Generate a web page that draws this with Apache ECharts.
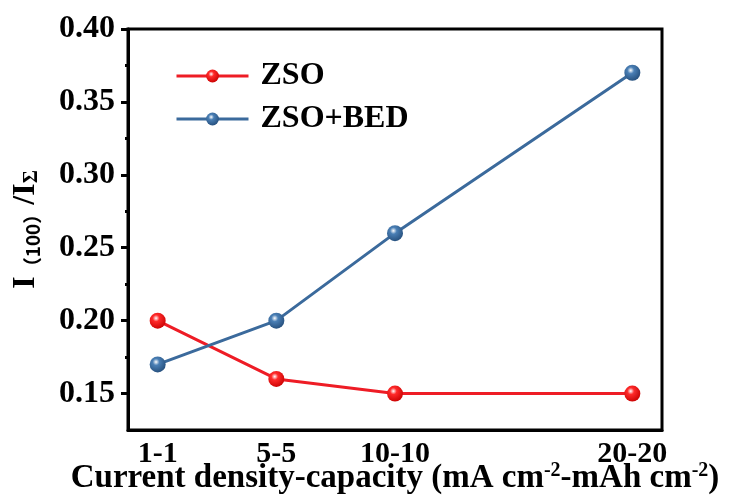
<!DOCTYPE html>
<html>
<head>
<meta charset="utf-8">
<script src="https://cdn.jsdelivr.net/npm/echarts@6/dist/echarts.min.js"></script>
<style>
    html, body { margin: 0; padding: 0; background: #fff; }
    #main { width: 734px; height: 497px; }
</style>
</head>
<body>
<div id="main"></div>
<script>
// x positions on the value axis, with the label shown for each
const xPositions = [1, 2, 3, 5];
const xLabels = ['1-1', '5-5', '10-10', '20-20'];

const zsoValues = [0.20, 0.16, 0.15, 0.15];
const zsoBedValues = [0.17, 0.20, 0.26, 0.37];

const yMajorTicks = [0.15, 0.20, 0.25, 0.30, 0.35, 0.40];
const yMinorTicks = [0.175, 0.225, 0.275, 0.325, 0.375];

const FONT = '"Liberation Serif", "Times New Roman", serif';

function ball(c1, c2) {
    return new echarts.graphic.RadialGradient(0.4, 0.35, 0.7, [
        { offset: 0, color: '#ffffff' },
        { offset: 0.3, color: c1 },
        { offset: 1, color: c2 }
    ]);
}

function pairs(vals) {
    return vals.map(function (v, i) { return [xPositions[i], v]; });
}

const chart = echarts.init(document.getElementById('main'), null, { renderer: 'canvas' });

const option = {
    backgroundColor: '#fff',
    animation: false,
    grid: {
        left: 128, right: 72, top: 29, bottom: 67,
        outerBoundsMode: 'none',
        show: true, borderColor: '#000', borderWidth: 3, backgroundColor: 'transparent'
    },
    legend: {
        orient: 'vertical',
        left: 170, top: 55,
        itemWidth: 72, itemHeight: 16, itemGap: 11,
        lineStyle: { width: 3 },
        textStyle: { fontFamily: FONT, fontWeight: 'bold', fontSize: 32, color: '#000', padding: [0, 0, 0, 7] },
        data: ['ZSO', 'ZSO+BED']
    },
    xAxis: {
        type: 'value',
        min: 0.75, max: 5.25,
        splitLine: { show: false },
        axisLine: { lineStyle: { color: '#000', width: 3 } },
        axisTick: { show: false },
        axisLabel: {
            customValues: xPositions,
            formatter: function (v) { return xLabels[xPositions.indexOf(v)] || ''; },
            fontFamily: FONT, fontWeight: 'bold', fontSize: 30, color: '#000', margin: 9
        },
        name: 'Current density-capacity (mA cm{sup|-2}-mAh cm{sup|-2})',
        nameLocation: 'middle', nameGap: 31, nameMoveOverlap: false,
        nameTextStyle: {
            fontFamily: FONT, fontWeight: 'bold', fontSize: 33, color: '#000',
            rich: {
                sup: { fontFamily: FONT, fontWeight: 'bold', fontSize: 20, color: '#000', verticalAlign: 'top', lineHeight: 34 }
            }
        }
    },
    yAxis: [{
        type: 'value',
        min: 0.125, max: 0.40,
        splitLine: { show: false },
        axisLine: { lineStyle: { color: '#000', width: 3 } },
        axisTick: { customValues: yMajorTicks, length: 7, lineStyle: { width: 3, color: '#000' } },
        axisLabel: {
            customValues: yMajorTicks,
            formatter: function (v) { return v.toFixed(2); },
            fontFamily: FONT, fontWeight: 'bold', fontSize: 32, color: '#000', margin: 13
        },
        name: '{b|I}{s|（100）}{b|/I}{sub|Σ}',
        nameLocation: 'middle', nameRotate: 90, nameGap: 86, nameMoveOverlap: false,
        nameTextStyle: {
            rich: {
                b: { fontFamily: FONT, fontWeight: 'bold', fontSize: 32, color: '#000' },
                s: { fontFamily: '"Noto Sans CJK SC", ' + FONT, fontWeight: 'bold', fontSize: 19, color: '#000', verticalAlign: 'bottom' },
                sub: { fontFamily: FONT, fontWeight: 'bold', fontSize: 20, color: '#000', verticalAlign: 'bottom' }
            }
        }
    }, {
        type: 'value',
        position: 'left',
        min: 0.125, max: 0.40,
        splitLine: { show: false },
        axisLine: { show: false },
        axisLabel: { show: false },
        axisTick: { customValues: yMinorTicks, length: 3, lineStyle: { width: 3, color: '#000' } }
    }],
    series: [{
        name: 'ZSO',
        type: 'line',
        data: pairs(zsoValues),
        symbol: 'circle', symbolSize: 16,
        lineStyle: { color: '#ee1c25', width: 3 },
        itemStyle: { color: ball('#ff2a2a', '#c80000') }
    }, {
        name: 'ZSO+BED',
        type: 'line',
        data: pairs(zsoBedValues),
        symbol: 'circle', symbolSize: 16,
        lineStyle: { color: '#3b6a9c', width: 3 },
        itemStyle: { color: ball('#4a7fb5', '#244d7a') }
    }]
};

chart.setOption(option);
</script>
</body>
</html>
